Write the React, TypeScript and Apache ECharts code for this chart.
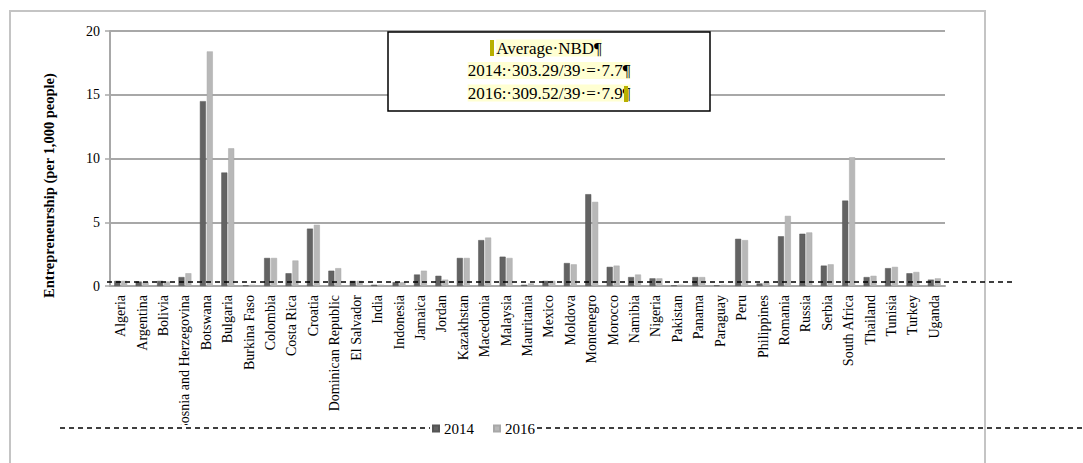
import React, { useEffect, useRef } from "react";
import * as echarts from "echarts";

const countries = [
  "Algeria", "Argentina", "Bolivia", "Bosnia and Herzegovina", "Botswana", "Bulgaria",
  "Burkina Faso", "Colombia", "Costa Rica", "Croatia", "Dominican Republic", "El Salvador",
  "India", "Indonesia", "Jamaica", "Jordan", "Kazakhstan", "Macedonia", "Malaysia",
  "Mauritania", "Mexico", "Moldova", "Montenegro", "Morocco", "Namibia", "Nigeria",
  "Pakistan", "Panama", "Paraguay", "Peru", "Philippines", "Romania", "Russia", "Serbia",
  "South Africa", "Thailand", "Tunisia", "Turkey", "Uganda",
];

const values2014 = [
  0.4, 0.35, 0.4, 0.7, 14.5, 8.9, 0.05, 2.2, 1.0, 4.5, 1.2, 0.4, 0.1, 0.3, 0.9, 0.8,
  2.2, 3.6, 2.3, 0.1, 0.4, 1.8, 7.2, 1.5, 0.7, 0.6, 0.05, 0.7, 0.05, 3.7, 0.2, 3.9,
  4.1, 1.6, 6.7, 0.7, 1.4, 1.0, 0.5,
];

const values2016 = [
  0.4, 0.3, 0.35, 1.0, 18.4, 10.8, 0.1, 2.2, 2.0, 4.8, 1.4, 0.4, 0.1, 0.3, 1.2, 0.5,
  2.2, 3.8, 2.2, 0.2, 0.4, 1.7, 6.6, 1.6, 0.9, 0.6, 0.1, 0.7, 0.1, 3.6, 0.3, 5.5,
  4.2, 1.7, 10.1, 0.8, 1.5, 1.1, 0.6,
];

const seriesNames = ["2014", "2016"];
const yTicks = { min: 0, max: 20, interval: 5 };
const boxLines = ["Average·NBD¶", "2014:·303.29/39·=·7.7¶", "2016:·309.52/39·=·7.9¶"];

const SERIF = '"Liberation Serif", "Times New Roman", serif';

export default function App() {
  const ref = useRef<HTMLDivElement>(null);

  useEffect(() => {
    if (!ref.current) return;
    const chart = echarts.init(ref.current, null, { renderer: "svg" });
    chart.setOption({
      animation: false,
      backgroundColor: "#ffffff",
      textStyle: { fontFamily: SERIF },
      grid: { left: 110, right: 138, top: 31, bottom: 177, containLabel: false },
      legend: {
        data: seriesNames,
        left: 430,
        top: 419,
        itemWidth: 6,
        itemHeight: 6,
        itemGap: 19,
        icon: "rect",
        textStyle: { fontFamily: SERIF, fontSize: 15, color: "#000" },
        backgroundColor: "#fff",
        padding: [2, 2],
        z: 60,
      },
      xAxis: {
        type: "category",
        data: countries,
        axisLine: { show: true, lineStyle: { color: "#a8a8a8", width: 2 } },
        axisTick: { show: false },
        axisLabel: {
          rotate: 90,
          interval: 0,
          fontFamily: SERIF,
          fontSize: 14,
          color: "#000",
          margin: 9,
        },
      },
      yAxis: {
        type: "value",
        min: yTicks.min,
        max: yTicks.max,
        interval: yTicks.interval,
        name: "Entrepreneurship (per 1,000 people)",
        nameLocation: "middle",
        nameGap: 54,
        nameRotate: 90,
        nameTextStyle: { fontFamily: SERIF, fontSize: 14.5, fontWeight: "bold", color: "#000", padding: [0, 0, 0, -54] },
        axisLine: { show: true, lineStyle: { color: "#a8a8a8", width: 2 } },
        axisTick: { show: true, length: 5, lineStyle: { color: "#a8a8a8", width: 1.5 } },
        axisLabel: { fontFamily: SERIF, fontSize: 14, color: "#000", margin: 10 },
        splitLine: { show: true, lineStyle: { color: "#a8a8a8", width: 2 } },
      },
      series: [
        {
          name: seriesNames[0],
          type: "bar",
          data: values2014,
          barWidth: 6,
          barGap: "15%",
          itemStyle: { color: "#636363", borderColor: "#555", borderWidth: 0.5 },
        },
        {
          name: seriesNames[1],
          type: "bar",
          data: values2016,
          barWidth: 6,
          itemStyle: { color: "#b8b8b8", borderColor: "#a8a8a8", borderWidth: 0.5 },
        },
      ],
      graphic: [
        {
          type: "polyline",
          shape: { points: [[10, 470], [10, 11], [985, 11], [985, 470]] },
          style: { stroke: "#c4c4c4", lineWidth: 2, fill: "none" },
          silent: true,
        },
        {
          type: "line",
          shape: { x1: 107, y1: 282, x2: 1013, y2: 282 },
          style: { stroke: "#000", lineWidth: 1.5, lineDash: [5, 4] },
          silent: true,
          z: 100,
        },
        {
          type: "rect",
          shape: { x: 60, y: 425, width: 370, height: 38 },
          style: { fill: "#fff" },
          silent: true,
          z: 50,
        },
        {
          type: "line",
          shape: { x1: 60, y1: 428, x2: 1083, y2: 428 },
          style: { stroke: "#000", lineWidth: 1.5, lineDash: [5, 4] },
          silent: true,
          z: 51,
        },
        {
          type: "rect",
          shape: { x: 388, y: 32, width: 322, height: 79 },
          style: { fill: "#fff", stroke: "#000", lineWidth: 1.5 },
          z: 100,
        },
        ...boxLines.map((t, i) => ({
          type: "text",
          x: 549,
          y: 48 + i * 22.5,
          z: 101,
          style: {
            text: t,
            fontFamily: SERIF,
            fontSize: 17,
            fill: "#000",
            align: "center",
            verticalAlign: "middle",
            backgroundColor: "#ffffd2",
          },
        })),
        {
          type: "rect",
          shape: { x: 490, y: 40, width: 4, height: 16 },
          style: { fill: "#b8b000" },
          z: 102,
        },
        {
          type: "rect",
          shape: { x: 624, y: 86, width: 4, height: 16 },
          style: { fill: "#b8b000" },
          z: 102,
        },
      ],
    });
    return () => chart.dispose();
  }, []);

  return (
    <div
      ref={ref}
      style={{ position: "absolute", left: 0, top: 0, width: 1083, height: 463 }}
    />
  );
}
